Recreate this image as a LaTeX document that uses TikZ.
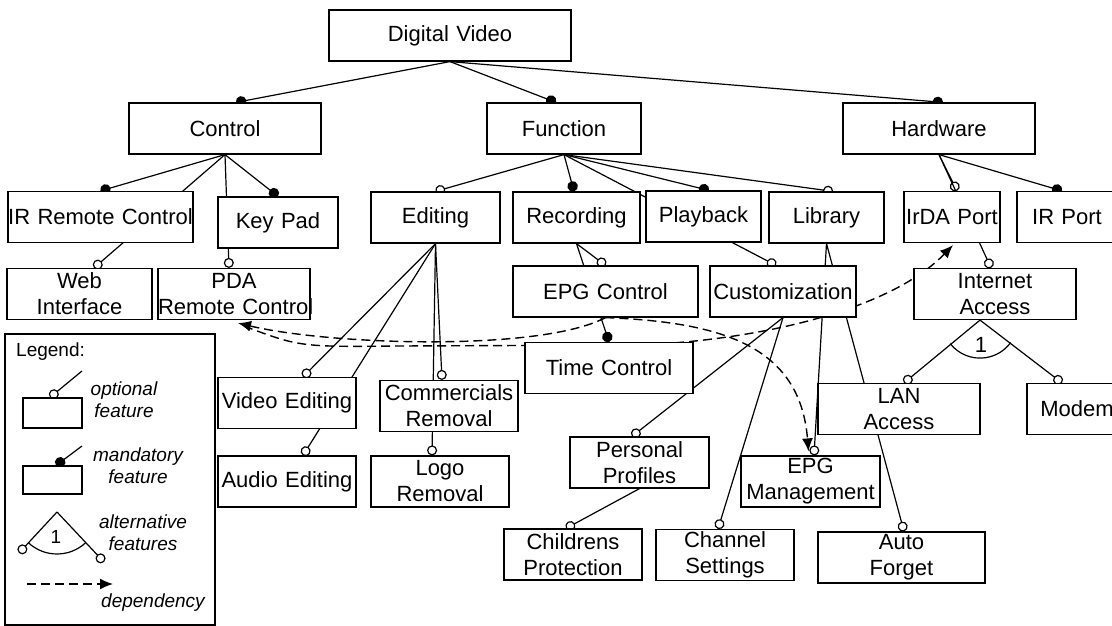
\documentclass[tikz,border=0pt]{standalone}
\usepackage{fontspec}
\setmainfont{Liberation Sans}
\usetikzlibrary{arrows.meta,backgrounds}
\newcommand{\boxfont}{\fontsize{22}{26}\selectfont}
\newcommand{\legfont}{\fontsize{19}{22}\selectfont}
\tikzstyle{feat} = [rectangle, draw=black, fill=white, line width=1.2pt, inner sep=0pt, align=center, minimum height=51pt, font=\boxfont]
\tikzstyle{legbox} = [rectangle, draw=black, line width=1.2pt, inner sep=0pt]
\tikzstyle{link} = [line width=1.2pt]
\tikzstyle{opt} = [link, -{Circle[fill=white, length=10pt, width=10pt]}]
\tikzstyle{man} = [link, -{Circle[length=10.5pt, width=10.5pt]}]
\tikzstyle{dep} = [line width=1.4pt, dash pattern=on 9pt off 5pt, -{Latex[length=13pt, width=11pt]}]

\begin{document}
\begin{tikzpicture}[x=1pt, y=-1pt]
\useasboundingbox (0,0) rectangle (1112,626);
% features
\node[feat, text width=242] (dv) at (450,35.5) {Digital Video};
\node[feat, text width=192] (ctrl) at (225,128.5) {Control};
\node[feat, text width=154] (func) at (564,128.5) {Function};
\node[feat, text width=192] (hw) at (939,128.5) {Hardware};

\node[feat, text width=185] (irc) at (100.5,217) {IR Remote Control};
\node[feat, text width=120] (keypad) at (278,222.5) {Key Pad};
\node[feat, text width=129] (editing) at (435.5,217.5) {Editing};
\node[feat, text width=127] (rec) at (576.5,217.5) {Recording};
\node[feat, text width=115] (play) at (703.5,216.5) {Playback};
\node[feat, text width=115] (lib) at (826.5,217.5) {Library};
\node[feat, text width=96] (irda) at (952,217) {IrDA Port};
\node[feat, text width=100] (irport) at (1067,217) {IR Port};

\node[feat, text width=145] (web) at (79.5,294) {Web\\Interface};
\node[feat, text width=152] (pda) at (234,294) {PDA\\\mbox{Remote Control}};
\node[feat, text width=185] (epgctl) at (605.5,291.5) {EPG Control};
\node[feat, text width=146] (custom) at (783,291.5) {Customization};
\node[feat, text width=162] (inet) at (995,294) {Internet\\Access};
\node[feat, text width=168] (timectl) at (609,368) {Time Control};

\node[feat, text width=138] (videoed) at (287,403) {Video Editing};
\node[feat, text width=138] (audioed) at (287,481.5) {Audio Editing};
\node[feat, text width=138] (comm) at (449,406) {Commercials\\Removal};
\node[feat, text width=138] (logo) at (440,481.5) {Logo\\Removal};
\node[feat, text width=139] (pprof) at (639.5,462.5) {Personal\\Profiles};
\node[feat, text width=139] (epgmgmt) at (810.5,481.5) {EPG\\Management};
\node[feat, text width=162] (lan) at (899,409) {LAN\\Access};
\node[feat, text width=100] (modem) at (1077,409) {Modem};
\node[feat, text width=138] (childp) at (573,554.5) {Childrens\\Protection};
\node[feat, text width=138] (chans) at (725,555) {Channel\\Settings};
\node[feat, text width=167] (autof) at (901.5,557.5) {Auto\\Forget};

\coordinate (altapex) at ([xshift=-15pt]inet.south);
\node[font=\boxfont, inner sep=0pt] (altone) at (981,345) {1};

% legend
\node[legbox, minimum width=210pt, minimum height=291pt] (legend) at (110,479.5) {};
\node[anchor=west, font=\legfont, inner sep=0pt] (legtitle) at (16,352) {Legend:};
\node[legbox, fill=white, minimum width=59pt, minimum height=30pt] (optbox) at (52.5,413) {};
\node[font=\legfont\itshape, align=center, inner sep=0pt] (optlbl) at (124,400) {optional\\feature};
\node[legbox, fill=white, minimum width=59pt, minimum height=28pt] (manbox) at (52.5,480) {};
\node[font=\legfont\itshape, align=center, inner sep=0pt] (manlbl) at (138,466) {mandatory\\feature};
\coordinate (legapex) at (57,512);
\node[font=\legfont, inner sep=0pt] (legone) at (56,537) {1};
\node[font=\legfont\itshape, align=center, inner sep=0pt] (altlbl) at (143,533) {alternative\\features};
\coordinate (depa) at (27,584);
\coordinate (depb) at (113,584);
\node[font=\legfont\itshape, inner sep=0pt] (deplbl) at (153,603) {dependency};
\coordinate (optend) at (82,371);
\coordinate (manend) at (82,446);
\coordinate (legl) at (19,553);
\coordinate (legr) at (104,562);

\begin{pgfonlayer}{background}
\fill[white] (0,0) rectangle (1112,626);
\draw[man] (dv.south) -- ([xshift=11pt]ctrl.north);
\draw[man] (dv.south) -- ([xshift=-8pt]func.north);
\draw[man] (dv.south) -- ([xshift=4pt]hw.north);

\draw[man] (ctrl.south) -- (irc.north);
\draw[man] (ctrl.south) -- (keypad.north);
\draw[opt] (ctrl.south) -- ([xshift=14.5pt]web.north);
\draw[opt] (ctrl.south) -- ([xshift=-5pt]pda.north);

\draw[opt] (func.south) -- (editing.north);
\draw[man] (func.south) -- ([xshift=-2.5pt]rec.north);
\draw[man] (func.south) -- ([xshift=5.5pt]play.north);
\draw[opt] (func.south) -- ([xshift=6.5pt]lib.north);
\draw[opt] (func.south) -- ([xshift=-7pt]custom.north);

\draw[opt] (hw.south) -- ([xshift=5pt]irda.north);
\draw[man] (hw.south) -- ([xshift=-5pt]irport.north);
\draw[opt] (hw.south) -- ([xshift=-4pt]inet.north);

\draw[opt] (editing.south) -- ([xshift=16pt]videoed.north);
\draw[opt] (editing.south) -- ([xshift=16pt]audioed.north);
\draw[opt] (editing.south) -- ([xshift=-7pt]comm.north);
\draw[opt] (editing.south) -- ([xshift=-8pt]logo.north);

\draw[opt] (rec.south) -- (epgctl.north);
\draw[man] (rec.south) -- (timectl.north);

\draw[opt] (lib.south) -- ([xshift=3.5pt]epgmgmt.north);
\draw[opt] (lib.south) -- ([xshift=2.5pt]autof.north);

\draw[opt] (custom.south) -- ([xshift=-7.5pt]pprof.north);
\draw[opt] (custom.south) -- ([xshift=-7pt]chans.north);
\draw[opt] (pprof.south) -- ([xshift=-7pt]childp.north);

\draw[opt] (altapex) -- ([xshift=5pt]lan.north);
\draw[opt] (altapex) -- ([xshift=-15pt]modem.north);
\draw[link] (altapex) ++(141.7:38) arc[start angle=141.7, end angle=36.2, radius=38];

% dependencies
\draw[dep] (epgctl.south) .. controls (540,352) and (330,345) .. ([xshift=4pt,yshift=-3pt]pda.south);
\draw[dep] (epgctl.south) .. controls (720,322) and (800,345) .. ([xshift=-2pt,yshift=4pt]epgmgmt.north);
\draw[dep] ([xshift=10pt,yshift=-6pt]pda.south) .. controls (300,347) .. (400,346) -- (640,345)
  .. controls (760,340) and (890,310) .. ([xshift=1pt,yshift=-2pt]irda.south);

% legend symbols
\draw[opt] (optend) -- ([xshift=-2.5pt]optbox.north);
\draw[man] (manend) -- ([xshift=3.5pt]manbox.north);
\draw[opt] (legapex) -- (legl);
\draw[opt] (legapex) -- (legr);
\draw[link] (legapex) ++(132.6:42) arc[start angle=132.6, end angle=46.9, radius=42];
\draw[dep] (depa) -- (depb);
\end{pgfonlayer}
\end{tikzpicture}
\end{document}
